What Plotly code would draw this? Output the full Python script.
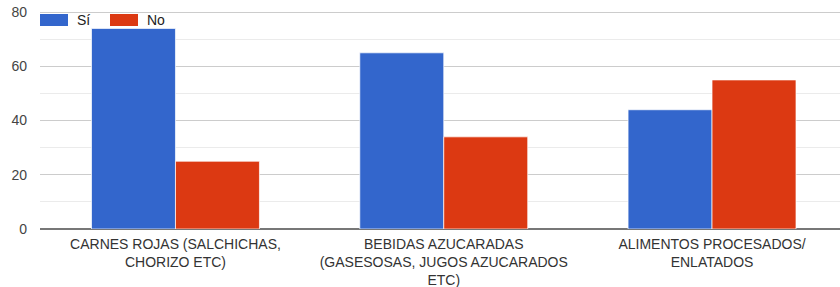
import plotly.graph_objects as go

categories = ["CARNES ROJAS (SALCHICHAS,<br>CHORIZO ETC)",
              "BEBIDAS AZUCARADAS<br>(GASESOSAS, JUGOS AZUCARADOS<br>ETC)",
              "ALIMENTOS PROCESADOS/<br>ENLATADOS"]
si_values = [74, 65, 44]
no_values = [25, 34, 55]
series_names = ["Sí", "No"]
colors = ["#3366cc", "#dc3912"]
y_ticks = [0, 20, 40, 60, 80]

font_family = "Liberation Sans, Arial, sans-serif"

fig = go.Figure()
for name, vals, col in zip(series_names, [si_values, no_values], colors):
    fig.add_trace(go.Bar(
        x=categories, y=vals, name=name,
        marker=dict(color=col, line=dict(color="white", width=0.7)),
        showlegend=False,
    ))

# custom legend (wide swatches like the reference); coordinates relative to plot area
PW, PH = 800, 219
legend_x = [0, 70]
for i, (name, col) in enumerate(zip(series_names, colors)):
    x0 = legend_x[i]
    fig.add_shape(type="rect", xref="paper", yref="paper",
                  x0=x0 / PW, x1=(x0 + 28) / PW,
                  y0=(PH - 16) / PH, y1=(PH - 4) / PH,
                  fillcolor=col, line=dict(width=0), layer="above")
    fig.add_annotation(xref="paper", yref="paper",
                       x=(x0 + 35) / PW, y=(PH - 10) / PH,
                       text=name, showarrow=False, xanchor="left", yanchor="middle",
                       font=dict(size=14, color="#222222", family=font_family))

fig.update_layout(
    width=840, height=287,
    margin=dict(l=40, r=0, t=10, b=58),
    paper_bgcolor="white", plot_bgcolor="white",
    barmode="group", bargap=0.374, bargroupgap=0,
    font=dict(family=font_family, size=14, color="#444444"),
)
fig.update_xaxes(
    range=[-0.505, 2.477], showgrid=False, showline=False,
    tickfont=dict(size=14, color="#333333"), ticks="outside", ticklen=2,
    tickcolor="rgba(0,0,0,0)", fixedrange=True,
)
fig.update_yaxes(
    range=[0, 80.8], tickvals=y_ticks, showgrid=True, gridcolor="#cccccc", gridwidth=1,
    minor=dict(tickvals=[10, 30, 50, 70], showgrid=True, gridcolor="#ebebeb", gridwidth=1),
    zeroline=True, zerolinecolor="#777777", zerolinewidth=2,
    showline=False, ticks="", ticklabelstandoff=12,
    tickfont=dict(size=14, color="#444444"), fixedrange=True,
)

fig.write_html("out.html", config={"displayModeBar": False, "staticPlot": True},
               post_script="document.body.style.margin='0';document.body.style.overflow='hidden';")
